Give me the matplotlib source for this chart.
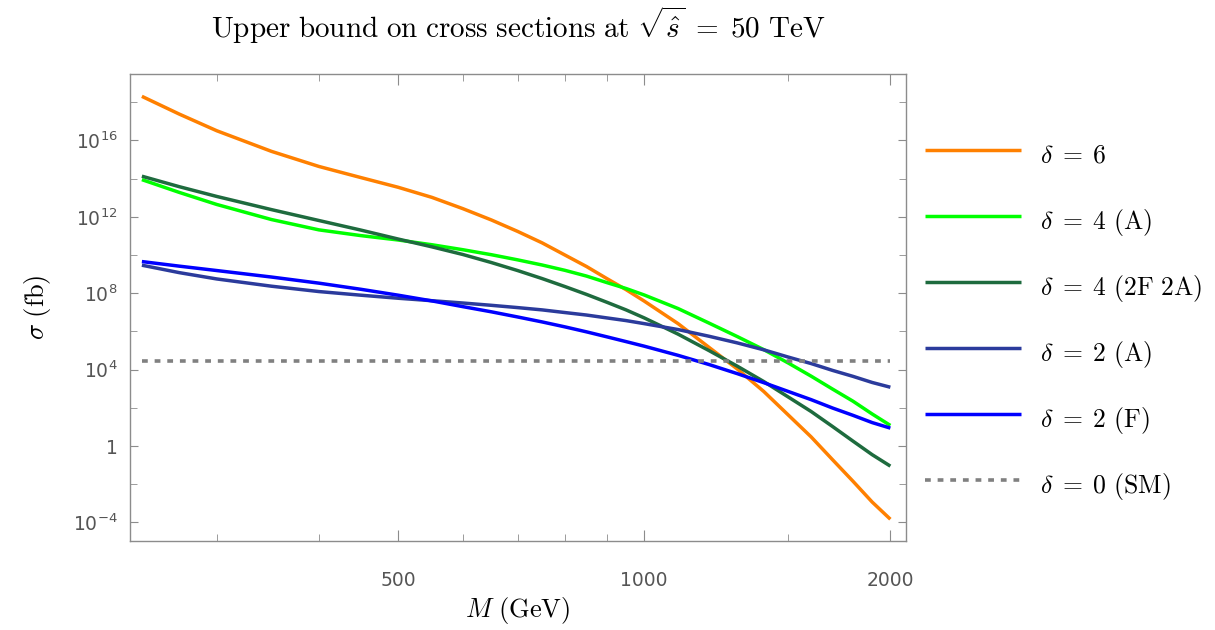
import numpy as np
import matplotlib
matplotlib.use("Agg")
import matplotlib.pyplot as plt
from matplotlib.ticker import FixedLocator, FixedFormatter, NullFormatter

# M in GeV; cross sections stored as log10(sigma / fb)
mass = [243, 270, 300, 350, 400, 450, 500, 550, 600, 650, 700, 750, 800, 850,
        900, 950, 1000, 1100, 1200, 1300, 1400, 1500, 1600, 1700, 1800, 1900, 2000]
log_d6 = [18.31, 17.38, 16.51, 15.43, 14.64, 14.06, 13.55, 13.02, 12.43, 11.84, 11.24, 10.64, 10.00, 9.40,
          8.77, 8.19, 7.59, 6.41, 5.17, 4.03, 2.86, 1.63, 0.48, -0.72, -1.84, -2.93, -3.83]
log_d4a = [13.95, 13.28, 12.65, 11.86, 11.32, 11.02, 10.79, 10.54, 10.28, 10.02, 9.75, 9.48, 9.20, 8.90,
           8.56, 8.25, 7.91, 7.20, 6.44, 5.73, 5.05, 4.35, 3.66, 2.98, 2.35, 1.68, 1.08]
log_d4ff = [14.13, 13.58, 13.07, 12.38, 11.81, 11.31, 10.84, 10.43, 10.03, 9.61, 9.19, 8.77, 8.35, 7.94,
            7.53, 7.13, 6.71, 5.86, 5.00, 4.18, 3.38, 2.57, 1.81, 1.02, 0.26, -0.45, -1.05]
log_d2a = [9.47, 9.08, 8.75, 8.37, 8.09, 7.90, 7.74, 7.61, 7.49, 7.37, 7.25, 7.13, 6.99, 6.86,
           6.71, 6.57, 6.41, 6.10, 5.75, 5.40, 5.04, 4.66, 4.32, 3.96, 3.65, 3.33, 3.08]
log_d2f = [9.66, 9.42, 9.19, 8.85, 8.53, 8.21, 7.90, 7.60, 7.30, 7.03, 6.76, 6.50, 6.24, 5.98,
           5.72, 5.47, 5.23, 4.75, 4.27, 3.79, 3.32, 2.86, 2.43, 1.99, 1.61, 1.23, 0.94]
log_sm = 4.48

labels = [r"$\delta\;=\;6$", r"$\delta\;=\;4\ (\mathrm{A})$", r"$\delta\;=\;4\ (\mathrm{2F\ 2A})$",
          r"$\delta\;=\;2\ (\mathrm{A})$", r"$\delta\;=\;2\ (\mathrm{F})$", r"$\delta\;=\;0\ (\mathrm{SM})$"]
colors = ["#ff8000", "#00ff00", "#1e6b3e", "#2b3b9c", "#0000ff", "#808080"]

ytick_major = [-4, 0, 4, 8, 12, 16]
ytick_labels = [r"$10^{-4}$", "1", r"$10^{4}$", r"$10^{8}$", r"$10^{12}$", r"$10^{16}$"]
ytick_minor = [-2, 2, 6, 10, 14, 18]
xtick_major = [500, 1000, 2000]
xtick_minor = [300, 400, 600, 700, 800, 900, 1500]

plt.rcParams["mathtext.fontset"] = "dejavusans"
frame_col = "#8c8c8c"
tick_col = "#555555"

fig = plt.figure(figsize=(12.15, 6.3), dpi=100)
ax = fig.add_axes([130 / 1215, 89 / 630, 776 / 1215, 467 / 630])

m = np.array(mass)
series = [log_d6, log_d4a, log_d4ff, log_d2a, log_d2f]
for vals, lab, col in zip(series, labels[:5], colors[:5]):
    ax.plot(m, 10.0 ** np.array(vals), color=col, lw=2.5, label=lab, solid_capstyle="butt")
ax.plot(m, np.full(len(m), 10.0 ** log_sm), color=colors[5], lw=2.6,
        ls=(0, (1.6, 1.9)), label=labels[5])

ax.set_xscale("log")
ax.set_yscale("log")
ax.set_xlim(235, 2090)
ax.set_ylim(10.0 ** -4.97, 10.0 ** 19.48)

ax.xaxis.set_major_locator(FixedLocator(xtick_major))
ax.xaxis.set_major_formatter(FixedFormatter([str(v) for v in xtick_major]))
ax.xaxis.set_minor_locator(FixedLocator(xtick_minor))
ax.xaxis.set_minor_formatter(NullFormatter())
ax.yaxis.set_major_locator(FixedLocator([10.0 ** e for e in ytick_major]))
ax.yaxis.set_major_formatter(FixedFormatter(ytick_labels))
ax.yaxis.set_minor_locator(FixedLocator([10.0 ** e for e in ytick_minor]))
ax.yaxis.set_minor_formatter(NullFormatter())

for s in ax.spines.values():
    s.set_color(frame_col)
    s.set_linewidth(1.0)
ax.tick_params(which="both", direction="in", top=True, right=True,
               color=frame_col, labelcolor=tick_col, labelsize=13.5)
ax.tick_params(axis="x", which="major", length=8, pad=21.5)
ax.tick_params(axis="x", which="minor", length=5)
ax.tick_params(axis="y", which="major", length=5.5, pad=9)
ax.tick_params(axis="y", which="minor", length=5)

ax.set_title(r"$\mathrm{Upper\ bound\ on\ cross\ sections\ at}\ \sqrt{\hat{s}}\;=\;50\ \mathrm{TeV}$",
             fontsize=21, pad=26, math_fontfamily="cm")
ax.set_xlabel(r"$M\ (\mathrm{GeV})$", fontsize=19, labelpad=4, math_fontfamily="cm")
ax.set_ylabel(r"$\sigma\ (\mathrm{fb})$", fontsize=19, labelpad=14, math_fontfamily="cm")

leg = ax.legend(loc="upper left", bbox_to_anchor=(1.0245, 0.865), frameon=False,
                fontsize=18.5, handlelength=3.74, handleheight=1.7, handletextpad=0.74,
                labelspacing=1.22, borderaxespad=0, borderpad=0)
for t in leg.get_texts():
    t.set_math_fontfamily("cm")

fig.savefig("out.png", dpi=100)
